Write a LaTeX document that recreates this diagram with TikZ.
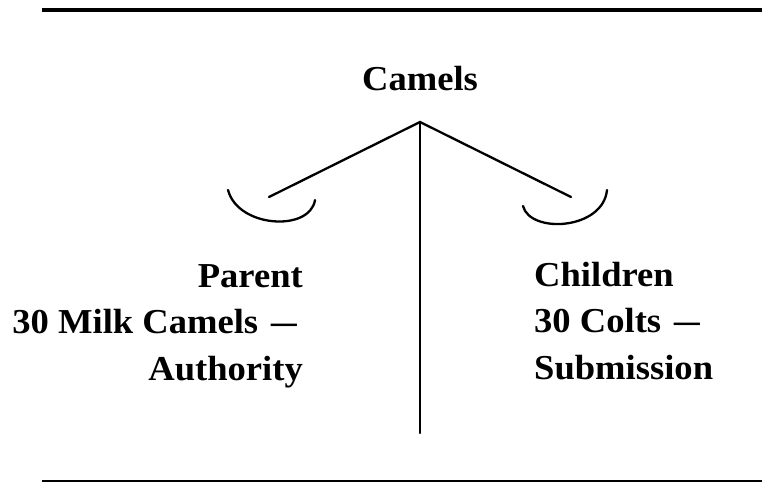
\documentclass[tikz,border=0pt]{standalone}
\usepackage{fontspec}
\usepackage{graphicx}
\setmainfont{Liberation Serif}
\newfontfamily\lblfont[FakeStretch=1.045]{Liberation Serif}
\newcommand{\longdash}{\hspace{13pt}\scalebox{1.4}[1]{–}}
\begin{document}
\begin{tikzpicture}[x=1pt,y=-1pt,
  lbl/.style={inner sep=0pt,font=\lblfont\fontsize{35}{46.5}\selectfont\bfseries},
  stroke/.style={line width=2.3pt,line cap=round}]
\useasboundingbox (0,0) rectangle (762,483);
% rules
\coordinate (t1) at (42,10); \coordinate (t2) at (762,10);
\coordinate (b1) at (42,481); \coordinate (b2) at (762,481);
\draw[line width=4pt] (t1) -- (t2);
\draw[line width=2pt] (b1) -- (b2);
% title
\node[lbl,anchor=base] (camels) at (420,90) {Camels};
% structure
\coordinate (apex) at (420,122);
\coordinate (foot) at (420,433);
\coordinate (larm) at (269,197);
\coordinate (rarm) at (571,197);
\draw[stroke] (apex) -- (foot);
\draw[stroke] (larm) -- (apex) -- (rarm);
\coordinate (la1) at (228,190); \coordinate (la2) at (315,200);
\coordinate (ra1) at (523,206); \coordinate (ra2) at (607,190);
\draw[stroke] (la1) .. controls (238,228) and (310,232) .. (la2);
\draw[stroke] (ra1) .. controls (530,234) and (603,230) .. (ra2);
% texts
\node[lbl,align=right,anchor=base east] (parent) at (303,380) {Parent\\30 Milk Camels\longdash\kern6pt\\Authority};
\node[lbl,align=left,anchor=base west] (children) at (534,379) {Children\\30 Colts\longdash\\Submission};
\end{tikzpicture}
\end{document}
